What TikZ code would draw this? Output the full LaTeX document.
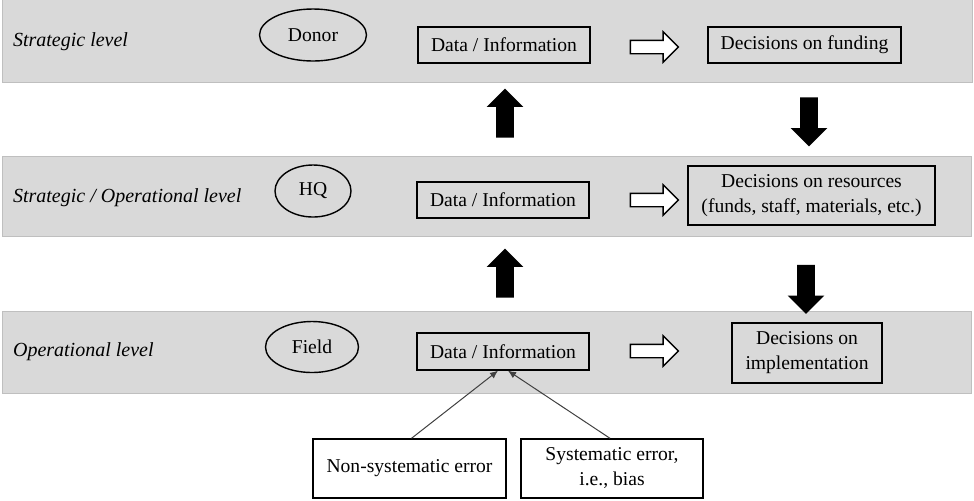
\documentclass[tikz,border=0pt]{standalone}
\usepackage{fontspec}
\setmainfont{LiberationSerif}[Extension=.ttf,UprightFont=*-Regular,ItalicFont=*-Italic,BoldFont=*-Bold]
\usetikzlibrary{shapes.geometric,shapes.arrows,arrows.meta}
\definecolor{bandg}{rgb}{0.85,0.85,0.85}
\definecolor{bandl}{rgb}{0.75,0.75,0.75}
\tikzset{
  band/.style={fill=bandg,draw=bandl,line width=0.4pt},
  lvl/.style={anchor=west,font=\itshape},
  actor/.style={ellipse,draw=black,line width=0.7pt,inner sep=0pt},
  infobox/.style={rectangle,draw=black,line width=0.7pt,inner sep=0pt,align=center},
  hollow/.style={single arrow,draw=black,fill=white,line width=0.7pt,inner sep=3pt,
    minimum height=24pt,single arrow head extend=4.25pt},
  bigarr/.style={single arrow,fill=black,inner sep=4.25pt,
    minimum height=24.5pt,single arrow head extend=4.75pt},
  err/.style={-{Latex[length=4pt,width=3.5pt]},line width=0.5pt,draw=black!75}
}
\begin{document}
\begin{tikzpicture}[x=0.5pt,y=-0.5pt,font=\fontsize{9.8}{12.5}\selectfont]
\useasboundingbox (0,0) rectangle (974,500);
% levels
\filldraw[band] (2,-1) rectangle (972,82);
\filldraw[band] (2,156) rectangle (971,236);
\filldraw[band] (2,311) rectangle (971,393);
\node[lvl] (l1) at (6,42)  {Strategic level};
\node[lvl] (l2) at (6,198) {Strategic / Operational level};
\node[lvl] (l3) at (6,352) {Operational level};
% actors
\node[actor,minimum width=53.5pt,minimum height=26pt] (donor) at (313,35)  {Donor};
\node[actor,minimum width=38pt,minimum height=26pt]   (hq)    at (313,191) {HQ};
\node[actor,minimum width=46.5pt,minimum height=25.5pt] (field) at (312,347) {Field};
% data and decisions
\node[infobox,minimum width=86pt,minimum height=18pt] (d1) at (504,45)  {Data / Information};
\node[infobox,minimum width=86pt,minimum height=18pt] (d2) at (503,200) {Data / Information};
\node[infobox,minimum width=86pt,minimum height=18.5pt] (d3) at (503,351.5) {Data / Information};
\node[infobox,minimum width=96.5pt,minimum height=18pt] (f1) at (804.5,45) {Decisions on funding};
\node[infobox,minimum width=123.5pt,minimum height=29.5pt] (r2) at (811.5,195.5) {Decisions on resources\\(funds, staff, materials, etc.)};
\node[infobox,minimum width=75pt,minimum height=30pt] (i3) at (807,353) {Decisions on\\implementation};
\node[hollow] (h1) at (651,47)  {};
\node[hollow] (h2) at (651,200) {};
\node[hollow] (h3) at (651,351) {};
% flows between levels
\node[bigarr,shape border rotate=90]  (up1) at (505,117.5) {};
\node[bigarr,shape border rotate=270] (dn1) at (809,117.5) {};
\node[bigarr,shape border rotate=90]  (up2) at (505,277.5) {};
\node[bigarr,shape border rotate=270] (dn2) at (806,285)   {};
% errors
\node[infobox,minimum width=96.5pt,minimum height=29.5pt] (nse) at (409.5,468.5) {Non-systematic error};
\node[infobox,minimum width=91pt,minimum height=29.5pt]   (se)  at (612,468.5) {Systematic error,\\i.e., bias};
\draw[err] ([xshift=1pt]nse.north) to ([xshift=-2.5pt]d3.south);
\draw[err] ([xshift=-1pt]se.north) to ([xshift=2.5pt]d3.south);
\end{tikzpicture}
\end{document}
